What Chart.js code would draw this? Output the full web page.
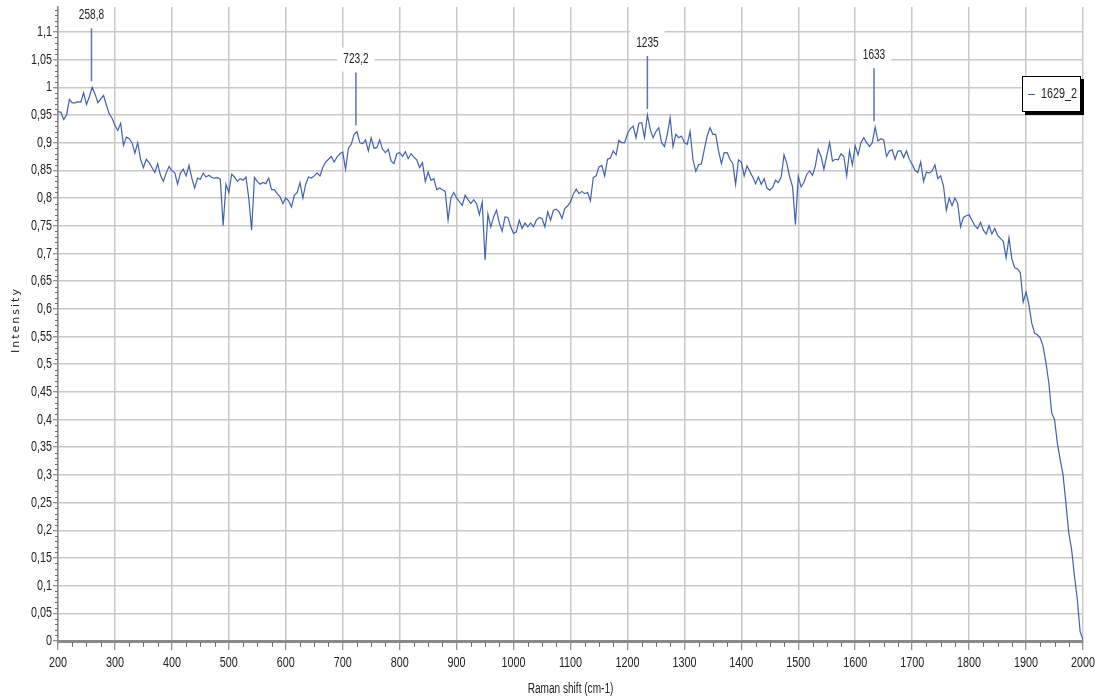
<!DOCTYPE html>
<html>
<head>
<meta charset="utf-8">
<title>1629_2 Raman spectrum</title>
<script src="https://cdn.jsdelivr.net/npm/chart.js@4/dist/chart.umd.min.js"></script>
<style>
    html, body { margin: 0; padding: 0; background: #fff; }
    canvas { display: block; }
</style>
</head>
<body>
<canvas id="chart" width="1102" height="700"></canvas>
<script>
const shiftStart = 200;
const shiftStep = 5;

const intensity200to495 = [
    0.956, 0.955, 0.942, 0.950, 0.978, 0.972, 0.972, 0.974, 0.973, 0.990,
    0.969, 0.983, 1.000, 0.988, 0.972, 0.979, 0.985, 0.968, 0.952, 0.944,
    0.931, 0.922, 0.935, 0.895, 0.910, 0.907, 0.900, 0.881, 0.900, 0.870,
    0.855, 0.870, 0.864, 0.855, 0.846, 0.862, 0.841, 0.830, 0.845, 0.857,
    0.849, 0.846, 0.825, 0.845, 0.852, 0.840, 0.859, 0.836, 0.818, 0.836,
    0.834, 0.845, 0.838, 0.841, 0.837, 0.836, 0.837, 0.834, 0.750, 0.825
];
const intensity500to795 = [
    0.810, 0.843, 0.838, 0.830, 0.835, 0.832, 0.838, 0.800, 0.742, 0.837,
    0.830, 0.825, 0.828, 0.826, 0.836, 0.815, 0.815, 0.808, 0.802, 0.790,
    0.800, 0.795, 0.784, 0.805, 0.810, 0.828, 0.800, 0.825, 0.838, 0.836,
    0.840, 0.845, 0.840, 0.855, 0.865, 0.870, 0.875, 0.865, 0.874, 0.880,
    0.883, 0.852, 0.890, 0.897, 0.915, 0.920, 0.900, 0.898, 0.905, 0.885,
    0.909, 0.890, 0.891, 0.905, 0.888, 0.882, 0.888, 0.867, 0.862, 0.880
];
const intensity800to1095 = [
    0.882, 0.875, 0.884, 0.871, 0.880, 0.874, 0.869, 0.855, 0.864, 0.830,
    0.847, 0.832, 0.835, 0.815, 0.818, 0.815, 0.812, 0.760, 0.800, 0.810,
    0.800, 0.793, 0.787, 0.805, 0.797, 0.790, 0.797, 0.790, 0.770, 0.793,
    0.688, 0.771, 0.748, 0.766, 0.778, 0.755, 0.740, 0.766, 0.765, 0.748,
    0.736, 0.739, 0.760, 0.745, 0.755, 0.748, 0.755, 0.748, 0.760, 0.765,
    0.763, 0.748, 0.775, 0.760, 0.778, 0.780, 0.775, 0.763, 0.781, 0.786
];
const intensity1100to1395 = [
    0.793, 0.807, 0.816, 0.808, 0.812, 0.808, 0.810, 0.795, 0.837, 0.840,
    0.856, 0.859, 0.840, 0.870, 0.872, 0.885, 0.878, 0.904, 0.900, 0.900,
    0.916, 0.925, 0.930, 0.909, 0.935, 0.936, 0.909, 0.950, 0.924, 0.909,
    0.920, 0.927, 0.900, 0.893, 0.915, 0.945, 0.893, 0.915, 0.909, 0.912,
    0.900, 0.897, 0.920, 0.870, 0.848, 0.860, 0.862, 0.888, 0.912, 0.927,
    0.915, 0.915, 0.885, 0.862, 0.882, 0.882, 0.870, 0.862, 0.825, 0.869
];
const intensity1400to1695 = [
    0.865, 0.840, 0.858, 0.848, 0.838, 0.826, 0.838, 0.825, 0.835, 0.818,
    0.814, 0.819, 0.832, 0.828, 0.838, 0.878, 0.862, 0.838, 0.820, 0.752,
    0.839, 0.820, 0.829, 0.843, 0.849, 0.841, 0.858, 0.888, 0.875, 0.852,
    0.876, 0.900, 0.867, 0.870, 0.869, 0.880, 0.875, 0.840, 0.885, 0.860,
    0.894, 0.878, 0.900, 0.909, 0.900, 0.893, 0.900, 0.928, 0.903, 0.907,
    0.905, 0.875, 0.885, 0.887, 0.870, 0.885, 0.885, 0.873, 0.885, 0.870
];
const intensity1700to2000 = [
    0.861, 0.850, 0.846, 0.865, 0.830, 0.847, 0.845, 0.849, 0.860, 0.835,
    0.840, 0.822, 0.778, 0.800, 0.786, 0.800, 0.790, 0.748, 0.765, 0.768,
    0.770, 0.760, 0.750, 0.745, 0.756, 0.742, 0.735, 0.750, 0.735, 0.745,
    0.733, 0.727, 0.722, 0.692, 0.728, 0.690, 0.674, 0.672, 0.665, 0.612,
    0.630, 0.607, 0.574, 0.556, 0.553, 0.547, 0.532, 0.502, 0.466, 0.412,
    0.400, 0.357, 0.327, 0.300, 0.249, 0.195, 0.165, 0.117, 0.075, 0.017,
    0.002
];

// labelled peaks
const peakShifts = [258.8, 723.2, 1235, 1633];
const peakIntensities = [1.0, 0.92, 0.95, 0.928];
const peakLabels = ["258,8", "723,2", "1235", "1633"];

const seriesName = "1629_2";
const xTitle = "Raman shift (cm-1)";
const yTitle = "Intensity";

const lineColor = "#4062ab";
const labelFont = "'Liberation Sans', Arial, sans-serif";
const squeeze = 0.72;   // the original labels are drawn in a narrow face

const intensity = [].concat(intensity200to495, intensity500to795, intensity800to1095,
    intensity1100to1395, intensity1400to1695, intensity1700to2000);
const points = intensity.map((v, i) => ({ x: shiftStart + i * shiftStep, y: v }));

function commaNumber(v) {
    return String(Math.round(v * 100) / 100).replace(".", ",");
}

function narrowText(ctx, text, x, y, align, size) {
    ctx.save();
    ctx.translate(x, y);
    ctx.scale(squeeze, 1);
    ctx.font = size + "px " + labelFont;
    ctx.textAlign = align;
    ctx.textBaseline = "middle";
    ctx.fillText(text, 0, 0);
    ctx.restore();
}

function narrowWidth(ctx, text, size) {
    ctx.save();
    ctx.font = size + "px " + labelFont;
    const w = ctx.measureText(text).width * squeeze;
    ctx.restore();
    return w;
}

// tick labels, minor ticks, axis titles, peak markers and the boxed legend
const extras = {
    id: "extras",
    afterDraw(chart) {
        const ctx = chart.ctx;
        const xs = chart.scales.x;
        const ys = chart.scales.y;
        const area = chart.chartArea;
        ctx.save();

        // minor ticks
        ctx.strokeStyle = "#707070";
        ctx.lineWidth = 1;
        ctx.beginPath();
        for (let i = 1; i <= 114; i++) {
            if (i % 5 === 0) continue;
            const py = Math.round(ys.getPixelForValue(i / 100)) + 0.5;
            ctx.moveTo(area.left - 3, py);
            ctx.lineTo(area.left, py);
        }
        for (let s = 225; s < 2000; s += 25) {
            if (s % 100 === 0) continue;
            const px = Math.round(xs.getPixelForValue(s)) + 0.5;
            ctx.moveTo(px, area.bottom + 1);
            ctx.lineTo(px, area.bottom + 6);
        }
        ctx.stroke();

        // tick labels
        ctx.fillStyle = "#222";
        ys.ticks.forEach(t => {
            narrowText(ctx, commaNumber(t.value), area.left - 6, ys.getPixelForValue(t.value), "right", 15);
        });
        xs.ticks.forEach(t => {
            narrowText(ctx, String(t.value), xs.getPixelForValue(t.value), 663, "center", 15);
        });

        // axis titles
        narrowText(ctx, xTitle, (area.left + area.right) / 2, 689, "center", 14);

        ctx.save();
        ctx.translate(16, 320);
        ctx.rotate(-Math.PI / 2);
        ctx.font = "11px 'DejaVu Sans', sans-serif";
        ctx.letterSpacing = "2px";
        ctx.textAlign = "center";
        ctx.textBaseline = "middle";
        ctx.fillText(yTitle, 0, 0);
        ctx.restore();

        // peak markers
        for (let i = 0; i < peakShifts.length; i++) {
            const px = xs.getPixelForValue(peakShifts[i]);
            const py = ys.getPixelForValue(peakIntensities[i]);
            const top = py - 59;
            const w = narrowWidth(ctx, peakLabels[i], 14) + 12;
            ctx.fillStyle = "#fff";
            ctx.fillRect(px - w / 2, top - 25, w, 24);
            ctx.strokeStyle = "#5a76b5";
            ctx.lineWidth = 1.5;
            ctx.beginPath();
            ctx.moveTo(px, py - 6);
            ctx.lineTo(px, top);
            ctx.stroke();
            ctx.fillStyle = "#222";
            narrowText(ctx, peakLabels[i], px, top - 13, "center", 14);
        }

        // legend box with shadow
        const lx = 1022, ly = 76, lw = 59, lh = 36;
        ctx.fillStyle = "#000";
        ctx.fillRect(lx + 3, ly + 3, lw, lh);
        ctx.fillStyle = "#fff";
        ctx.fillRect(lx, ly, lw, lh);
        ctx.strokeStyle = "#000";
        ctx.lineWidth = 1;
        ctx.strokeRect(lx + 0.5, ly + 0.5, lw - 1, lh - 1);
        ctx.strokeStyle = lineColor;
        ctx.beginPath();
        ctx.moveTo(lx + 6, ly + 18.5);
        ctx.lineTo(lx + 13, ly + 18.5);
        ctx.stroke();
        ctx.fillStyle = "#222";
        narrowText(ctx, seriesName, lx + 19, ly + 18, "left", 15);

        ctx.restore();
    }
};

new Chart(document.getElementById("chart"), {
    type: "line",
    data: {
        datasets: [{
            label: seriesName,
            data: points,
            borderColor: lineColor,
            borderWidth: 1.2,
            pointRadius: 0,
            fill: false,
            tension: 0
        }]
    },
    options: {
        responsive: false,
        animation: false,
        layout: { padding: { top: 7, right: 19, left: 0, bottom: 0 } },
        plugins: {
            legend: { display: false },
            tooltip: { enabled: false }
        },
        scales: {
            x: {
                type: "linear",
                min: 200,
                max: 2000,
                afterFit: (scale) => { scale.height = 59; },
                ticks: { stepSize: 100, autoSkip: false, display: false },
                grid: {
                    color: "#c8c8c8",
                    lineWidth: 1.5,
                    tickColor: "#707070",
                    tickLength: 9,
                    tickWidth: 1
                },
                border: { color: "#8a8a8a", width: 3 }
            },
            y: {
                min: 0,
                max: 1.145,
                afterFit: (scale) => { scale.width = 58; },
                afterBuildTicks: (scale) => {
                    scale.ticks = scale.ticks.filter(t => t.value <= 1.1001);
                },
                ticks: { stepSize: 0.05, display: false },
                grid: {
                    color: "#c8c8c8",
                    lineWidth: 1.5,
                    tickColor: "#707070",
                    tickLength: 5,
                    tickWidth: 1
                },
                border: { color: "#8a8a8a", width: 1.5 }
            }
        }
    },
    plugins: [extras]
});
</script>
</body>
</html>
